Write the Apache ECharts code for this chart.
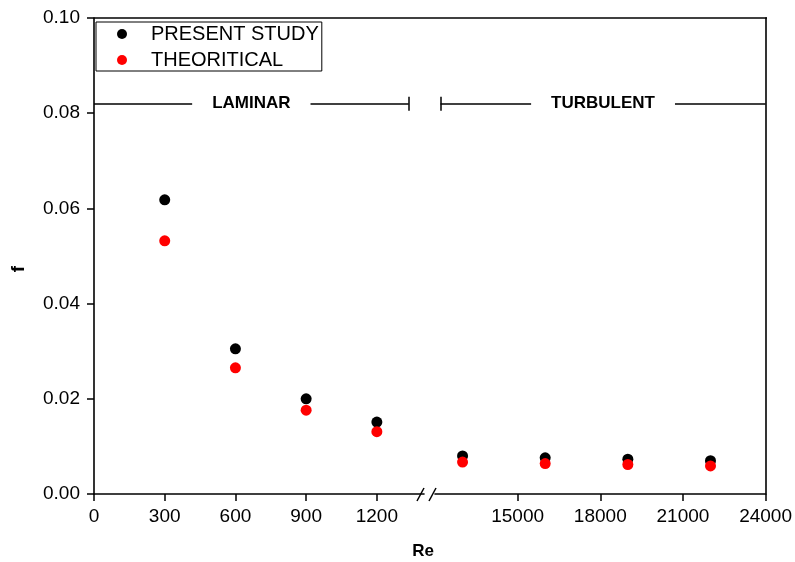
<!DOCTYPE html>
<html><head><meta charset="utf-8">
<script src="https://cdn.jsdelivr.net/npm/echarts@6/dist/echarts.min.js"></script>
<style>html,body{margin:0;padding:0;background:#fff}#c{width:795px;height:562px}</style>
</head><body><div id="c"></div>
<script>
// ---- data ----
const laminarRe = [300, 600, 900, 1200];
const laminarPresent = [0.0618, 0.0305, 0.0200, 0.0151];
const laminarTheory = [0.0532, 0.0265, 0.0176, 0.0131];
const turbulentRe = [13000, 16000, 19000, 22000];
const turbulentPresent = [0.0080, 0.0076, 0.0073, 0.0070];
const turbulentTheory = [0.0067, 0.0064, 0.0062, 0.0059];
const laminarTicks = [0, 300, 600, 900, 1200];
const turbulentTicks = [15000, 18000, 21000, 24000];
const seriesNames = ['PRESENT STUDY', 'THEORITICAL'];
const regimeLabels = ['LAMINAR', 'TURBULENT'];
const regimeLevel = 0.082;
const laminarEnd = 1335;
const turbulentStart = 12200;

// ---- layout ----
const FONT = '"Liberation Sans", Arial, sans-serif';
const L = 94, R = 767, T = 18, B = 494, W = 795, H = 562;
const split1 = 424, split2 = 435;

const chart = echarts.init(document.getElementById('c'), null, {renderer: 'canvas'});
const pairs = (xs, ys) => xs.map((x, i) => [x, ys[i]]);
const axisLine = {show: true, lineStyle: {color: '#000', width: 1.6}};
const tickLen = 7;

function regimeLine(x0, x1, name, tickX) {
  const d = 0.00147;
  return {
    silent: true, symbol: ['none', 'none'], animation: false,
    lineStyle: {color: '#000', width: 1.5, type: 'solid'},
    label: {show: true, position: 'middle', formatter: name, color: '#000', verticalAlign: 'middle',
      fontWeight: 'bold', fontSize: 17, fontFamily: FONT, backgroundColor: '#fff', padding: [3, 20], distance: 0},
    emphasis: {disabled: true},
    data: [
      [{coord: [x0, regimeLevel]}, {coord: [x1, regimeLevel]}],
      [{coord: [tickX, regimeLevel - d], label: {show: false}}, {coord: [tickX, regimeLevel + d]}]
    ]
  };
}

const scatterBase = {type: 'scatter', symbol: 'circle', symbolSize: 11, animation: false, emphasis: {disabled: true}};

chart.setOption({
  backgroundColor: '#fff',
  animation: false,
  textStyle: {fontFamily: FONT},
  grid: [
    {left: L, top: T, width: split1 - L, height: B - T},
    {left: split2, top: T, right: W - R, height: B - T}
  ],
  legend: {
    data: seriesNames, orient: 'vertical', left: 96, top: 22,
    icon: 'circle', itemWidth: 10, itemHeight: 10, itemGap: 6,
    padding: [2, 3, 1, 21], borderColor: '#000', borderWidth: 1, borderRadius: 0,
    textStyle: {fontSize: 20, color: '#000', fontFamily: FONT, lineHeight: 20, padding: [0, 0, 0, 19]},
    selectedMode: false
  },
  xAxis: [
    {gridIndex: 0, type: 'value', min: 0, max: 1400, interval: 300, position: 'bottom',
      axisLine: {...axisLine, onZero: false},
      axisTick: {show: true, length: tickLen, lineStyle: {color: '#000', width: 1.5}, customValues: laminarTicks},
      axisLabel: {fontSize: 19, color: '#000', margin: 13, customValues: laminarTicks, fontFamily: FONT, formatter: v => String(v)},
      splitLine: {show: false}},
    {gridIndex: 1, type: 'value', min: 12000, max: 24000, interval: 3000, position: 'bottom',
      axisLine: {...axisLine, onZero: false},
      axisTick: {show: true, length: tickLen, lineStyle: {color: '#000', width: 1.5}, customValues: turbulentTicks},
      axisLabel: {fontSize: 19, color: '#000', margin: 13, customValues: turbulentTicks, fontFamily: FONT, formatter: v => String(v)},
      splitLine: {show: false}}
  ],
  yAxis: [
    {gridIndex: 0, type: 'value', min: 0, max: 0.1, interval: 0.02, position: 'left',
      axisLine: {...axisLine, onZero: false},
      axisTick: {show: true, length: tickLen, lineStyle: {color: '#000', width: 1.5}},
      axisLabel: {fontSize: 19, color: '#000', margin: 14, formatter: v => v.toFixed(2), fontFamily: FONT},
      splitLine: {show: false}},
    {gridIndex: 1, type: 'value', min: 0, max: 0.1, interval: 0.02, position: 'right',
      axisLine: {...axisLine, onZero: false}, axisTick: {show: false}, axisLabel: {show: false},
      splitLine: {show: false}}
  ],
  series: [
    {...scatterBase, name: seriesNames[0], xAxisIndex: 0, yAxisIndex: 0, itemStyle: {color: '#000', opacity: 1},
      data: pairs(laminarRe, laminarPresent), markLine: regimeLine(0, laminarEnd, regimeLabels[0], laminarEnd)},
    {...scatterBase, name: seriesNames[1], xAxisIndex: 0, yAxisIndex: 0, itemStyle: {color: '#ff0000', opacity: 1},
      data: pairs(laminarRe, laminarTheory)},
    {...scatterBase, name: seriesNames[0], xAxisIndex: 1, yAxisIndex: 1, itemStyle: {color: '#000', opacity: 1},
      data: pairs(turbulentRe, turbulentPresent), markLine: regimeLine(turbulentStart, 24000, regimeLabels[1], turbulentStart)},
    {...scatterBase, name: seriesNames[1], xAxisIndex: 1, yAxisIndex: 1, itemStyle: {color: '#ff0000', opacity: 1},
      data: pairs(turbulentRe, turbulentTheory)}
  ],
  graphic: [
    {type: 'line', silent: true, shape: {x1: L, y1: T, x2: R, y2: T}, style: {stroke: '#000', lineWidth: 1.6}},
    {type: 'line', silent: true, shape: {x1: split1 - 7, y1: B + 7, x2: split1, y2: B - 6}, style: {stroke: '#000', lineWidth: 1.5}},
    {type: 'line', silent: true, shape: {x1: split2 - 6, y1: B + 7, x2: split2 + 1, y2: B - 6}, style: {stroke: '#000', lineWidth: 1.5}},
    {type: 'text', silent: true, x: 423, y: 551, style: {text: 'Re', font: 'bold 17px ' + FONT, fill: '#000', align: 'center', verticalAlign: 'middle'}},
    {type: 'text', silent: true, x: 19, y: 269, rotation: Math.PI / 2, style: {text: 'f', font: 'bold 19px ' + FONT, fill: '#000', align: 'center', verticalAlign: 'middle'}}
  ]
});
</script></body></html>
